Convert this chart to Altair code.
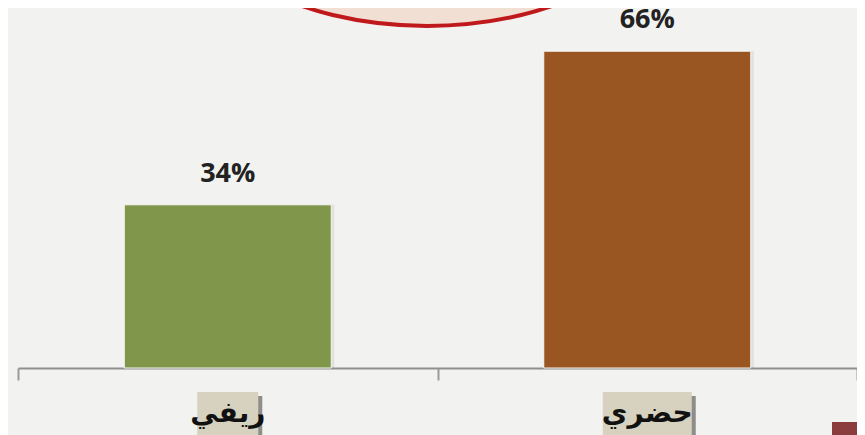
import altair as alt
import pandas as pd

# ---- data ----
categories = ["ريفي", "حضري"]
values = [34, 66]
value_labels = ["34%", "66%"]

df = pd.DataFrame({"cat": categories, "val": values, "lab": value_labels})

BG = "#f2f2f0"
GREEN = "#7f964b"
BROWN = "#9a5622"

x_enc = alt.X(
    "cat:N",
    sort=categories,
    scale=alt.Scale(paddingInner=0, paddingOuter=0),
    axis=alt.Axis(
        title=None,
        labels=False,
        domainColor="#8f8f8f",
        domainWidth=2,
        tickColor="#9a9a9a",
        tickWidth=2,
        tickSize=12,
        tickBand="extent",
        grid=False,
    ),
)
y_enc = alt.Y("val:Q", scale=alt.Scale(domain=[0, 75]), axis=None)

base = alt.Chart(df)

# decorative title oval (cut off at the top)
oval = base.transform_filter(alt.datum.cat == categories[0]).mark_point(
    shape="M -1 0 A 1 0.574 0 1 1 1 0 A 1 0.574 0 1 1 -1 0 Z",
    size=234256,
    filled=True,
    fill="#f0dfd2",
    stroke="#c0191c",
    strokeWidth=4,
    opacity=1,
).encode(x=alt.value(409), y=alt.value(-121))

shadow = base.mark_bar(size=207, color="#000000", opacity=0.07, xOffset=3).encode(
    x=x_enc, y=y_enc
)

bars = base.mark_bar(size=207, stroke="#f7f7f3", strokeWidth=1).encode(
    x=x_enc,
    y=y_enc,
    color=alt.Color(
        "cat:N",
        scale=alt.Scale(domain=categories, range=[GREEN, BROWN]),
        legend=None,
    ),
)

pct = base.mark_text(
    dy=-31,
    baseline="middle",
    fontSize=27,
    fontWeight="bold",
    font="Open Sans",
    color="#222222",
).encode(x=x_enc, y=y_enc, text="lab:N")

box_w = alt.expr.if_(alt.datum.cat == categories[0], 61, 89)

box_shadow = (
    base.transform_calculate(w=box_w)
    .mark_bar(color="#3a3a3a", opacity=0.55, xOffset=4)
    .encode(
        x=x_enc,
        y=alt.value(388),
        y2=alt.value(432),
        size=alt.Size("w:Q", scale=None, legend=None),
    )
)

boxes = (
    base.transform_calculate(w=box_w)
    .mark_bar(color="#d6d2bf")
    .encode(
        x=x_enc,
        y=alt.value(384),
        y2=alt.value(430),
        size=alt.Size("w:Q", scale=None, legend=None),
    )
)

cat_text = base.mark_text(
    baseline="alphabetic",
    fontSize=28,
    fontWeight="bold",
    font="DejaVu Sans",
    color="#111111",
).encode(x=x_enc, y=alt.value(414), text="cat:N")

corner = base.transform_filter(alt.datum.cat == categories[0]).mark_rect(
    color="#8b3d3d"
).encode(x=alt.value(814), x2=alt.value(850), y=alt.value(414), y2=alt.value(430))

chart = (
    alt.layer(oval, shadow, bars, pct, box_shadow, boxes, cat_text, corner)
    .properties(
        width=839,
        height=360,
        autosize=alt.AutoSizeParams(type="none"),
        padding={"left": 10, "top": 0, "right": 0, "bottom": 67},
        background=BG,
    )
    .configure_view(stroke=None)
)

chart.save("out.html", embed_options={"renderer": "svg", "actions": False})
